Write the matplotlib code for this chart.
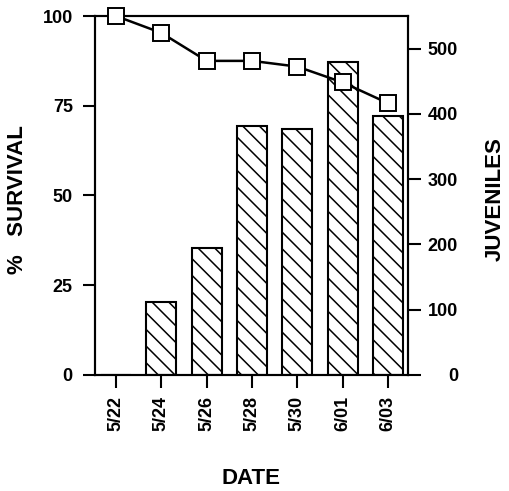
import matplotlib
matplotlib.use("Agg")
from matplotlib import pyplot as plt

dates = ["5/22", "5/24", "5/26", "5/28", "5/30", "6/01", "6/03"]
survival = [100, 95.3, 87.5, 87.5, 85.9, 81.5, 75.7]
juveniles = [0, 112, 195, 381, 377, 480, 397]
survival_ticks = [0, 25, 50, 75, 100]
juvenile_ticks = [0, 100, 200, 300, 400, 500]

plt.rcParams['font.family'] = ['Liberation Sans', 'DejaVu Sans']
plt.rcParams['font.weight'] = 'bold'
plt.rcParams['hatch.linewidth'] = 1.1

fig = plt.figure(figsize=(5.09, 4.91), dpi=100)
ax = fig.add_axes([0.1866, 0.2363, 0.615, 0.7311])
ax2 = ax.twinx()

x = list(range(len(dates)))

# bars on the right (juveniles) axis
ax2.bar(x, juveniles, width=0.66, color='white', edgecolor='black',
        linewidth=1.5, hatch='\\\\', zorder=2)
ax2.set_ylim(0, 550)
ax2.set_yticks(juvenile_ticks)
ax2.tick_params(axis='y', length=9, width=1.5, labelsize=13, pad=27)
for lab in ax2.get_yticklabels():
    lab.set_horizontalalignment('right')
ax2.set_ylabel("JUVENILES", fontsize=16, fontweight='bold', va='center')
ax2.yaxis.set_label_coords(1.278, 0.49)

# survival line on the left axis, drawn over the bars
ax.set_zorder(ax2.get_zorder() + 1)
ax.patch.set_visible(False)
ax.plot(x, survival, color='black', linewidth=1.8, marker='s',
        markersize=11, markerfacecolor='white', markeredgecolor='black',
        markeredgewidth=1.4, clip_on=False, zorder=5)
ax.set_ylim(0, 100)
ax.set_yticks(survival_ticks)
ax.set_xlim(-0.463, 6.44)
ax.set_xticks(x)
ax.set_xticklabels(dates, rotation=90)
ax.tick_params(axis='y', length=9, width=1.5, labelsize=13, pad=7)
ax.tick_params(axis='x', length=9, width=1.5, labelsize=13, pad=6)
ax.set_ylabel("%   SURVIVAL", fontsize=16, fontweight='bold', va='center')
ax.yaxis.set_label_coords(-0.246, 0.49)
ax.set_xlabel("DATE", fontsize=16, fontweight='bold', va='center')
ax.xaxis.set_label_coords(0.5, -0.287)

for a in (ax, ax2):
    for s in a.spines.values():
        s.set_linewidth(1.5)

fig.savefig("out.png", dpi=100)
